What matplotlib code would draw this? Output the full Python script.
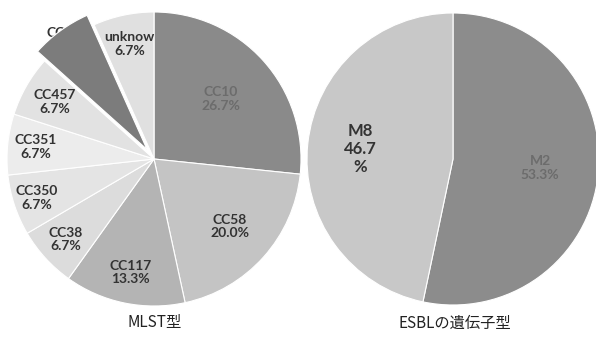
import numpy as np
import matplotlib
matplotlib.use("Agg")
import matplotlib.pyplot as plt

plt.rcParams['font.family'] = ['Lato', 'Noto Sans CJK JP', 'DejaVu Sans']

# MLST pie
mlst_labels = ["CC10", "CC58", "CC117", "CC38", "CC350", "CC351", "CC457", "CC131", "unknow"]
mlst_pct = [26.7, 20.0, 13.3, 6.7, 6.7, 6.7, 6.7, 6.7, 6.7]

# ESBL gene type pie
esbl_labels = ["M2", "M8"]
esbl_pct = [53.3, 46.7]
esbl_pct_text = ["53.3%", "46.7\n%"]

titles = ["MLST型", "ESBLの遺伝子型"]

mlst_colors = ["#8a8a8a", "#c4c4c4", "#b4b4b4", "#dcdcdc", "#e4e4e4",
               "#ececec", "#e2e2e2", "#7c7c7c", "#e0e0e0"]
mlst_text = ["#6c6c6c"] + ["#333333"] * 8
mlst_lr = [0.61, 0.69, 0.79, 0.81, 0.84, 0.81, 0.78, 1.0, 0.80]
mlst_explode = [0, 0, 0, 0, 0, 0, 0, 0.08, 0]
mlst_fs = [10] * 9

esbl_colors = ["#8c8c8c", "#c8c8c8"]
esbl_text = ["#6c6c6c", "#333333"]
esbl_lr = [0.60, 0.64]
esbl_fs = [10, 12]

W, H = 596, 340
fig = plt.figure(figsize=(W / 100, H / 100), dpi=100)


def pie_axes(cx, cy, r):
    return fig.add_axes([(cx - r) / W, (H - cy - r) / H, 2 * r / W, 2 * r / H])


def draw_pie(ax, vals, colors, explode, labels, texts, radii, tcolors, sizes, low_label=None):
    wedges, _ = ax.pie(vals, colors=colors, startangle=90, counterclock=False,
                       explode=explode, radius=1.0,
                       wedgeprops=dict(edgecolor="white", linewidth=0.8))
    for i, w in enumerate(wedges):
        ang = np.deg2rad((w.theta1 + w.theta2) / 2)
        x = radii[i] * np.cos(ang)
        y = radii[i] * np.sin(ang)
        z = 1 if i == low_label else 5
        ax.text(x, y, f"{labels[i]}\n{texts[i]}", ha="center", va="center",
                fontsize=sizes[i], fontweight="bold", color=tcolors[i],
                linespacing=1.15, zorder=z)
        if i == low_label:
            w.set_zorder(3)
    ax.set_xlim(-1, 1)
    ax.set_ylim(-1, 1)
    ax.set_aspect("equal")
    ax.axis("off")


ax1 = pie_axes(154, 159, 147)
draw_pie(ax1, mlst_pct, mlst_colors, mlst_explode, mlst_labels,
         [f"{v:.1f}%" for v in mlst_pct], mlst_lr, mlst_text, mlst_fs, low_label=7)

ax2 = pie_axes(453, 159, 146)
draw_pie(ax2, esbl_pct, esbl_colors, [0, 0], esbl_labels,
         esbl_pct_text, esbl_lr, esbl_text, esbl_fs)

for cx, t in zip([155, 455], titles):
    fig.text(cx / W, 1 - 323 / H, t, ha="center", va="center",
             fontsize=11, color="#222222", family=['Noto Sans CJK JP', 'DejaVu Sans'])

fig.savefig("out.png", dpi=100)
